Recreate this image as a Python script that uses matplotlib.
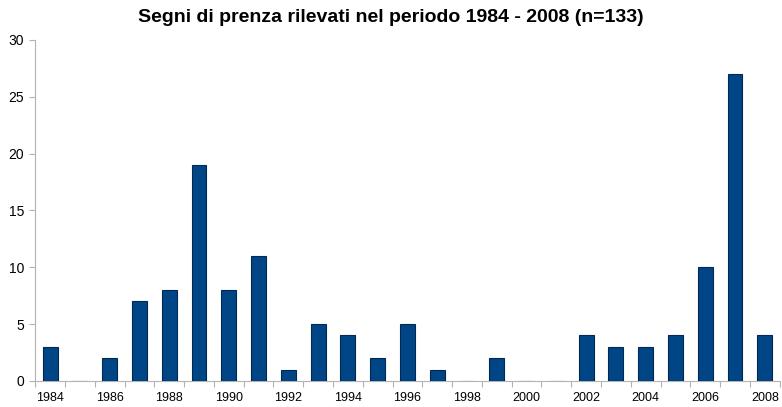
import matplotlib.pyplot as plt
import numpy as np

years = list(range(1984, 2009))
counts = [3, 0, 2, 7, 8, 19, 8, 11, 1, 5, 4, 2, 5, 1, 0, 2, 0, 0, 4, 3, 3, 4, 10, 27, 4]
title = "Segni di prenza rilevati nel periodo 1984 - 2008 (n=133)"

plt.rcParams['font.family'] = ['Liberation Sans', 'DejaVu Sans']

fig = plt.figure(figsize=(7.82, 4.07), dpi=100)
ax = fig.add_axes([0.045, 0.064, 0.952, 0.838])

x = np.arange(len(years))
ax.bar(x, counts, width=0.5, color='#004586', edgecolor='#002a55', linewidth=0.8, zorder=3)

ax.set_xlim(-0.5, len(years) - 0.5)
ax.set_ylim(0, 30)
ax.set_yticks(range(0, 31, 5))

# etichette ogni due anni, tacche tra le categorie
ax.set_xticks(x[::2])
ax.set_xticklabels([str(y) for y in years[::2]])
ax.set_xticks(np.arange(-0.5, len(years), 1), minor=True)
ax.tick_params(axis='x', which='major', length=0, labelsize=9, pad=8)
ax.tick_params(axis='x', which='minor', length=4, color='#b3b3b3', width=0.8)
ax.tick_params(axis='y', length=4, color='#b3b3b3', width=0.8, labelsize=10, pad=4)

for s in ['top', 'right']:
    ax.spines[s].set_visible(False)
for s in ['left', 'bottom']:
    ax.spines[s].set_color('#b3b3b3')
    ax.spines[s].set_linewidth(0.8)

fig.suptitle(title, fontsize=14, fontweight='bold', y=0.978)

fig.savefig('out.png', dpi=100)
